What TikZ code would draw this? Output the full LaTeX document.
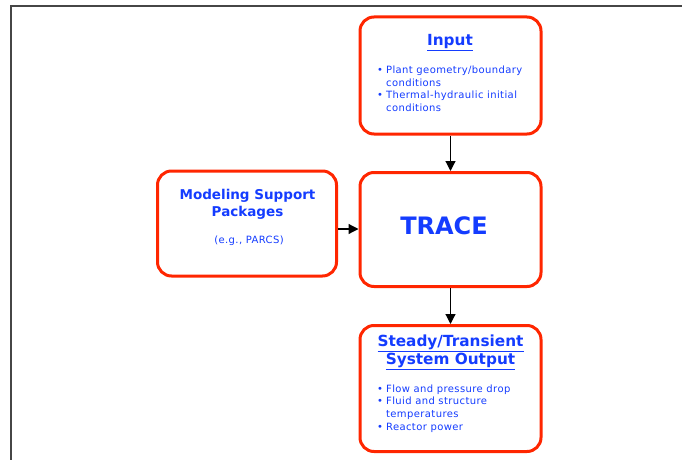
\documentclass[tikz,border=0pt]{standalone}
\usepackage{fontspec}
\setmainfont{DejaVu Sans}
\newfontfamily\spacedfont[LetterSpace=4]{DejaVu Sans}
\usetikzlibrary{arrows.meta}
\definecolor{boxred}{RGB}{255,38,0}
\definecolor{txtblue}{RGB}{20,60,255}
\definecolor{framegray}{RGB}{70,70,70}
\tikzset{
  box/.style={draw=boxred, line width=3pt, rounded corners=14pt, fill=white},
  head/.style={text=txtblue, font=\bfseries\fontsize{13.5}{18}\selectfont, anchor=base, inner sep=0pt, align=center},
  bighead/.style={head, font=\bfseries\fontsize{15.3}{18}\selectfont},
  body/.style={text=txtblue, font=\spacedfont\fontsize{10}{12.7}\selectfont, anchor=base west, inner sep=0pt},
  conn/.style={line width=1.2pt, -{Triangle[length=10pt,width=10pt]}},
}
\begin{document}
\begin{tikzpicture}[x=1pt,y=-1pt]
\useasboundingbox (0,0) rectangle (682,460);
\draw[framegray, line width=1.5pt] (11,461) -- (11,6) -- (683,6);
% boxes
\node[box, minimum width=181pt, minimum height=117pt] (input) at (450.5,75.5) {};
\node[box, minimum width=181pt, minimum height=114pt] (trace) at (450.5,229.5) {};
\node[box, minimum width=179pt, minimum height=105pt] (model) at (247,223.5) {};
\node[box, minimum width=181pt, minimum height=126pt] (output) at (450.5,388.5) {};
% connectors
\draw[conn] (input.south) -- (trace.north);
\draw[conn] (model.east |- 0,229) -- (trace.west |- 0,229);
\draw[conn] (trace.south) -- (output.north);
% input text
\node[bighead] (inhead) at (450,46) {\underline{Input}};
\node[body] (inbody) at (377,73.5) {\begin{tabular}[t]{@{}l@{\hspace{3pt}}l@{}}\textbullet & Plant geometry/boundary\\ & conditions\\ \textbullet & Thermal-hydraulic initial\\ & conditions\end{tabular}};
% model text
\node[head] (mhead1) at (247.5,199) {Modeling Support};
\node[head] (mhead2) at (247.5,216.5) {Packages};
\node[body, anchor=base] (mbody) at (249,243) {(e.g., PARCS)};
% trace text
\node[head, font=\bfseries\fontsize{24}{28}\selectfont] (tracet) at (444,234) {TRACE};
% output text
\node[bighead] (ohead1) at (450.5,346) {\underline{Steady/Transient}};
\node[bighead] (ohead2) at (450.5,364) {\underline{System Output}};
\node[body] (obody) at (377,392) {\begin{tabular}[t]{@{}l@{\hspace{3pt}}l@{}}\textbullet & Flow and pressure drop\\ \textbullet & Fluid and structure\\ & temperatures\\ \textbullet & Reactor power\end{tabular}};
\end{tikzpicture}
\end{document}
